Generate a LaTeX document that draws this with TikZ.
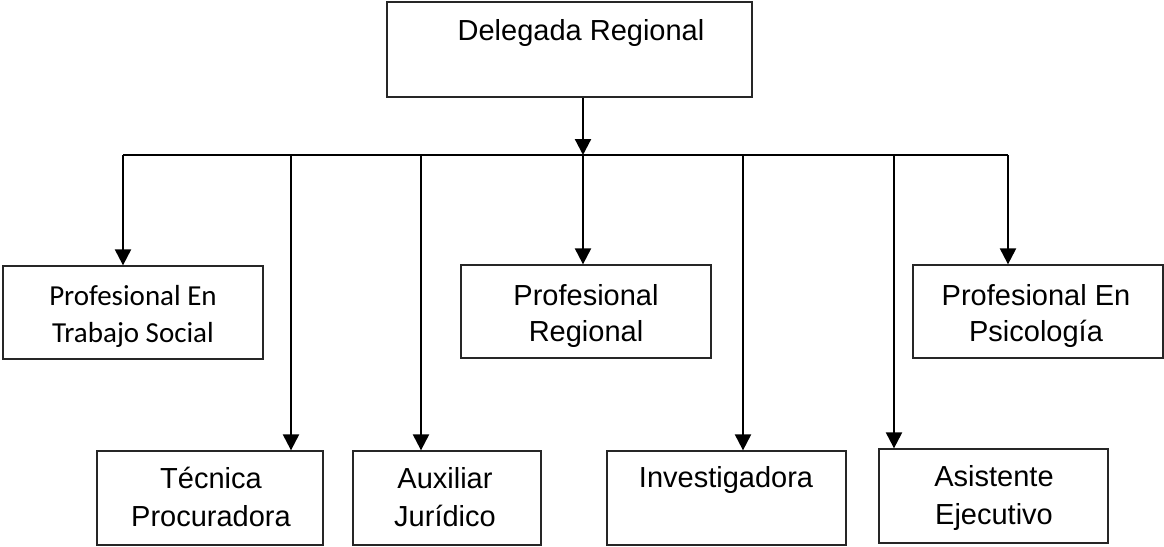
\documentclass[tikz,border=0pt]{standalone}
\usepackage{fontspec}
\setmainfont{Liberation Sans}
\newfontfamily\calibri{Carlito}
\usetikzlibrary{arrows.meta}
\begin{document}
\begin{tikzpicture}[x=1pt,y=-1pt,
  box/.style={draw=black!85, line width=1.3pt, inner sep=0pt},
  txt/.style={font=\fontsize{29}{36}\selectfont, align=center, inner sep=0pt, anchor=base},
  lowtxt/.style={txt, font=\fontsize{29}{38}\selectfont},
  bus/.style={line width=1.6pt},
  arr/.style={line width=2.2pt, -{Triangle[length=16pt,width=16pt]}}]
\useasboundingbox (0,0) rectangle (1164,546);
% boxes
\node[box, minimum width=365pt, minimum height=95pt] (del) at (569.5,49.5) {};
\node[box, minimum width=260pt, minimum height=93pt] (ts) at (133,312.5) {};
\node[box, minimum width=250pt, minimum height=93pt] (pr) at (586,311.5) {};
\node[box, minimum width=250pt, minimum height=93pt] (ps) at (1038,311.5) {};
\node[box, minimum width=226pt, minimum height=94pt] (tec) at (210,498) {};
\node[box, minimum width=188pt, minimum height=94pt] (aux) at (447,498) {};
\node[box, minimum width=239pt, minimum height=94pt] (inv) at (726.5,498) {};
\node[box, minimum width=229pt, minimum height=94pt] (ase) at (993.5,496) {};
% texts (base = baseline of last line)
\node[txt] (del-t) at (581,40) {Delegada Regional};
\node[txt, font=\calibri\fontsize{29}{37}\selectfont] (ts-t) at (133,342) {Profesional En\\Trabajo Social};
\node[txt] (pr-t) at (586,341) {Profesional\\Regional};
\node[txt] (ps-t) at (1036,341) {Profesional En\\Psicología};
\node[lowtxt] (tec-t) at (211,526) {Técnica\\Procuradora};
\node[lowtxt] (aux-t) at (445,526) {Auxiliar\\Jurídico};
\node[txt] (inv-t) at (726,487) {Investigadora};
\node[lowtxt] (ase-t) at (994,524) {Asistente\\Ejecutivo};
% bus
\coordinate (b1) at (123,155);
\coordinate (b2) at (291,155);
\coordinate (b3) at (421,155);
\coordinate (b4) at (583,155);
\coordinate (b5) at (743,155);
\coordinate (b6) at (894,155);
\coordinate (b7) at (1008,155);
\draw[bus] (b1) -- (b7);
\draw[arr] (b4 |- del.south) -- (b4);
\draw[arr] (b1) -- (b1 |- ts.north);
\draw[arr] (b2) -- (b2 |- tec.north);
\draw[arr] (b3) -- (b3 |- aux.north);
\draw[arr] (b4) -- (b4 |- pr.north);
\draw[arr] (b5) -- (b5 |- inv.north);
\draw[arr] (b6) -- (b6 |- ase.north);
\draw[arr] (b7) -- (b7 |- ps.north);
\end{tikzpicture}
\end{document}
